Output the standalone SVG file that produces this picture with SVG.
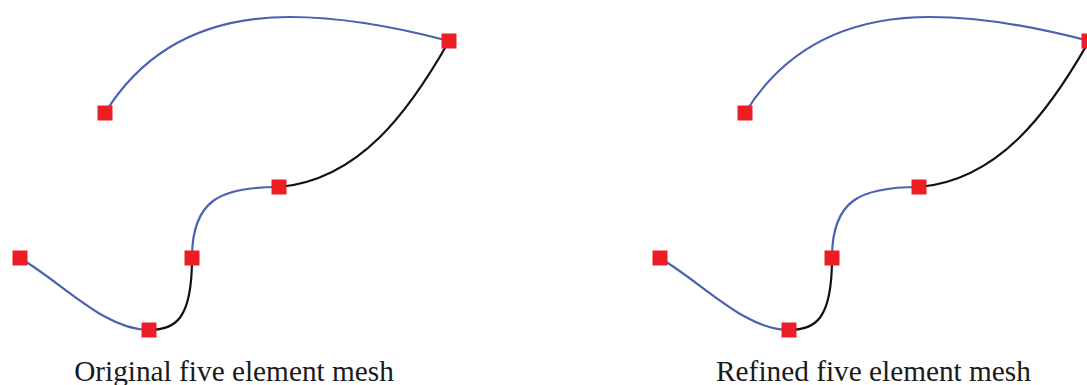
<svg xmlns="http://www.w3.org/2000/svg" width="1087" height="385" viewBox="0 0 1087 385">
<style>
.b{fill:none;stroke:#4a62b0;stroke-width:2.2}
.k{fill:none;stroke:#111;stroke-width:2.2}
.n{fill:#ee1d23}
.t{font-family:"Liberation Serif","Times New Roman",serif;font-size:29.3px;fill:#1a1a1a;text-anchor:middle}
</style>
<rect width="1087" height="385" fill="#fff"/>
<g id="connectors">
<path class="b" d="M105,113 C150,40 220,17 290,17 C340,17 400,28 449,41"/>
<path class="k" d="M449,41 C410,110 360,180 279,187"/>
<path class="b" d="M279,187 C220,187 192,200 192,258"/>
<path class="k" d="M192,258 C192,320 175,330 149,330"/>
<path class="b" d="M20,258 C65,285 105,330 149,330"/>
<path class="b" d="M745,113 C790,40 860,17 930,17 C980,17 1040,28 1089,41"/>
<path class="k" d="M1089,41 C1050,110 1000,180 919,187"/>
<path class="b" d="M919,187 C860,187 832,200 832,258"/>
<path class="k" d="M832,258 C832,320 815,330 789,330"/>
<path class="b" d="M660,258 C705,285 745,330 789,330"/>
</g>
<g id="a1"><rect class="n" x="97.5" y="105.5" width="15" height="15"/></g>
<g id="a2"><rect class="n" x="441.5" y="33.5" width="15" height="15"/></g>
<g id="a3"><rect class="n" x="271.5" y="179.5" width="15" height="15"/></g>
<g id="a4"><rect class="n" x="184.5" y="250.5" width="15" height="15"/></g>
<g id="a5"><rect class="n" x="141.5" y="322.5" width="15" height="15"/></g>
<g id="a6"><rect class="n" x="12.5" y="250.5" width="15" height="15"/></g>
<g id="b1"><rect class="n" x="737.5" y="105.5" width="15" height="15"/></g>
<g id="b2"><rect class="n" x="1081.5" y="33.5" width="15" height="15"/></g>
<g id="b3"><rect class="n" x="911.5" y="179.5" width="15" height="15"/></g>
<g id="b4"><rect class="n" x="824.5" y="250.5" width="15" height="15"/></g>
<g id="b5"><rect class="n" x="781.5" y="322.5" width="15" height="15"/></g>
<g id="b6"><rect class="n" x="652.5" y="250.5" width="15" height="15"/></g>
<g id="label1"><text class="t" x="234" y="381">Original five element mesh</text></g>
<g id="label2"><text class="t" x="873.5" y="381">Refined five element mesh</text></g>
</svg>
